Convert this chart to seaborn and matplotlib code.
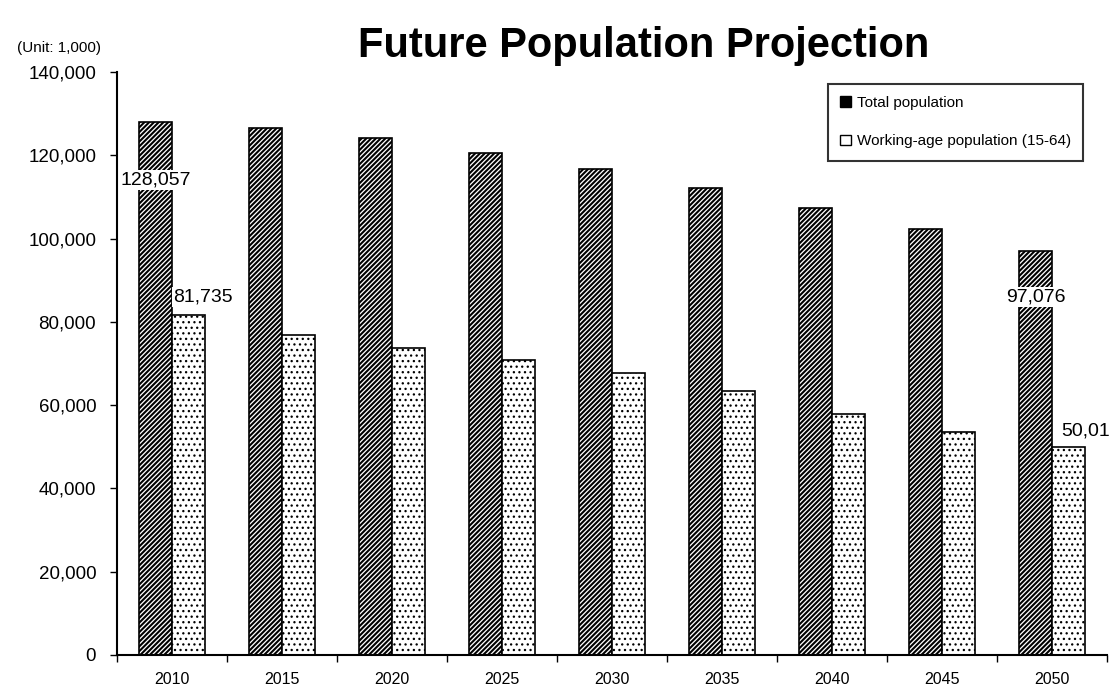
import pandas as pd
import seaborn as sns
import matplotlib.pyplot as plt
from matplotlib.patches import Patch
from matplotlib.ticker import FuncFormatter, FixedLocator

years = ['2010', '2015', '2020', '2025', '2030', '2035', '2040', '2045', '2050']
total = [128057, 126597, 124100, 120659, 116618, 112124, 107276, 102210, 97076]
working = [81735, 76807, 73635, 70841, 67730, 63430, 57866, 53531, 50013]
series = ['Total population', 'Working-age population (15-64)']

df = pd.DataFrame({
    'year': years * 2,
    'value': total + working,
    'series': [series[0]] * len(years) + [series[1]] * len(years),
})

sns.set_style('white')
plt.rcParams['font.family'] = ['Liberation Sans', 'DejaVu Sans']
plt.rcParams['hatch.linewidth'] = 1.4
plt.rcParams['text.color'] = 'black'
plt.rcParams['xtick.color'] = 'black'
plt.rcParams['ytick.color'] = 'black'

fig = plt.figure(figsize=(11.09, 6.92), dpi=100)
ax = fig.add_axes([0.1055, 0.0535, 0.8927, 0.8425])

sns.barplot(data=df, x='year', y='value', hue='series', width=0.6,
            palette=['white', 'white'], edgecolor='black', linewidth=1.2,
            legend=False, ax=ax)

# diagonal stripes for total, fine dots for working-age
hatches = [('///////', 1.5), ('...', 0.9)]
for cont, (h, lw) in zip(ax.containers, hatches):
    for bar in cont:
        bar.set_hatch(h)
        if hasattr(bar, 'set_hatch_linewidth'):
            bar.set_hatch_linewidth(lw)

ax.set_ylim(0, 140000)
ax.set_xlim(-0.5, len(years) - 0.5)
ax.set_yticks(range(0, 140001, 20000))
ax.yaxis.set_major_formatter(FuncFormatter(lambda v, p: f'{int(v):,}'))
ax.tick_params(axis='y', labelsize=13.5, length=5, width=1, left=True,
               direction='out', pad=10, labelcolor='black')
ax.tick_params(axis='x', which='major', length=0, labelsize=11.5, pad=12,
               labelcolor='black')
ax.xaxis.set_minor_locator(FixedLocator([i - 0.5 for i in range(len(years) + 1)]))
ax.tick_params(axis='x', which='minor', length=5, width=1, bottom=True, direction='out')
ax.set_xlabel('')
ax.set_ylabel('')
sns.despine(ax=ax)
for s in ['left', 'bottom']:
    ax.spines[s].set_color('black')
    ax.spines[s].set_linewidth(1.5)

# value labels
box = dict(facecolor='white', edgecolor='none', pad=1)
ax.text(-0.15, 114000, f'{total[0]:,}', ha='center', va='center', fontsize=14, bbox=box)
ax.text(0.28, 86000, f'{working[0]:,}', ha='center', va='center', fontsize=14, bbox=box)
ax.text(7.85, 86000, f'{total[-1]:,}', ha='center', va='center', fontsize=14, bbox=box)
ax.text(8.08, 53800, f'{working[-1]:,}'[:5], ha='left', va='center', fontsize=14, bbox=box)

handles = [Patch(facecolor='black', edgecolor='black', label=series[0]),
           Patch(facecolor='white', edgecolor='black', label=series[1])]
leg = ax.legend(handles=handles, loc='upper right', bbox_to_anchor=(0.976, 0.98),
                fontsize=11, handlelength=0.7, handleheight=0.7, handletextpad=0.4,
                labelspacing=1.6, fancybox=False, borderpad=0.8, borderaxespad=0)
leg.get_frame().set_edgecolor('black')
leg.get_frame().set_linewidth(1.5)

fig.text(0.58, 0.934, 'Future Population Projection', ha='center', va='center',
         fontsize=30, fontweight='bold')
fig.text(0.053, 0.93, '(Unit: 1,000)', ha='center', va='center', fontsize=11)

fig.savefig('out.png', dpi=100)
